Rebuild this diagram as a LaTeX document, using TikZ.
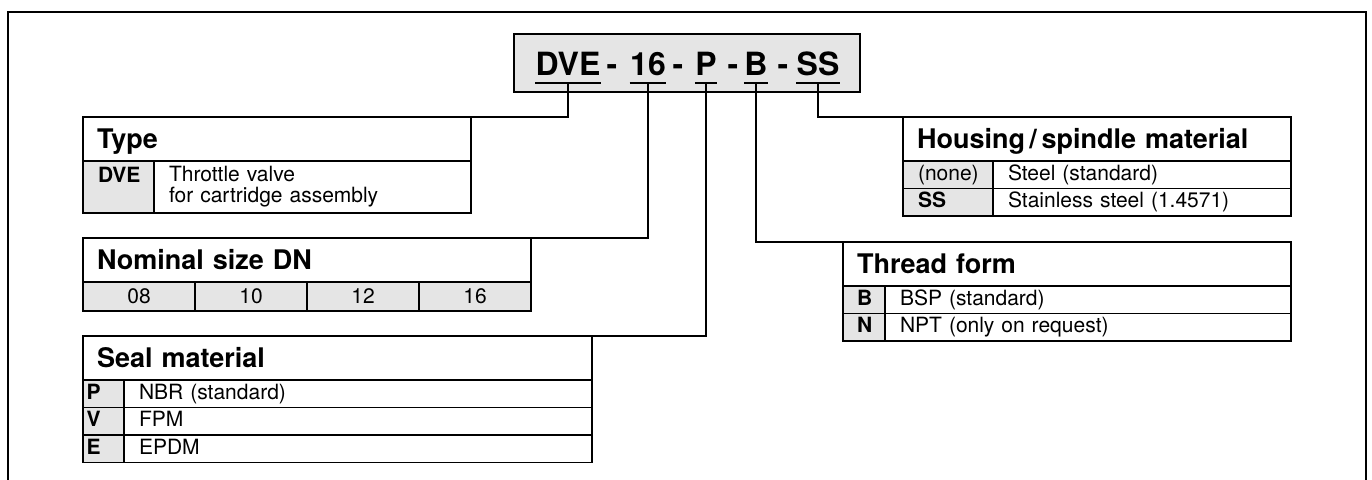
\documentclass[tikz,border=0pt]{standalone}
\usepackage{fontspec}
\setmainfont{TeX Gyre Heros}

\definecolor{keygray}{gray}{0.9}
\newcommand{\codefont}{\fontsize{32}{36}\selectfont\bfseries}
\newcommand{\headfont}{\fontsize{27}{30}\selectfont\bfseries}
\newcommand{\rowfont}{\fontsize{21}{21}\selectfont}

\tikzstyle{codebox}=[draw, line width=1.8, fill=keygray, anchor=north west, minimum width=346, minimum height=58, inner sep=0, outer sep=0]
\tikzstyle{codepart}=[font=\codefont, anchor=base, inner xsep=0.5, inner ysep=0, text height=23, text depth=8, outer sep=0]
\tikzstyle{codeline}=[line width=1.8]
\tikzstyle{headcell}=[draw, line width=1.7, anchor=north west, font=\headfont, align=left, inner xsep=14, inner ysep=0, minimum height=44, text height=20, text depth=2, outer sep=0]
\tikzstyle{keycell}=[draw, line width=1.1, fill=keygray, anchor=north west, font=\rowfont\bfseries, align=left, inner ysep=0, minimum height=27.5, outer sep=0]
\tikzstyle{valcell}=[draw, line width=1.1, anchor=north west, font=\rowfont, align=left, inner xsep=15, inner ysep=0, minimum height=27.5, outer sep=0]
\tikzstyle{rowtext}=[text height=15, text depth=4]
\tikzstyle{sizecell}=[draw, line width=1.1, fill=keygray, anchor=north west, font=\rowfont, inner sep=0, minimum width=112, minimum height=29, text height=15, text depth=1, outer sep=0]
\tikzstyle{tableframe}=[line width=1.7]
\tikzstyle{leadline}=[line width=1.7]
\tikzstyle{frameline}=[line width=1.6]

% one table row: name, corner, key pad, key width, value width, key, value
\newcommand{\optionrow}[7]{
  \node[keycell, rowtext, inner xsep=#3, text width=#4] (#1Key) at (#2) {#6};
  \node[valcell, rowtext, text width=#5] (#1Val) at (#1Key.north east) {#7};
}

\begin{document}
\begin{tikzpicture}[x=1pt, y=-1pt]
  \useasboundingbox (0,0) rectangle (1372,479);
  \draw[frameline] (8,490) -- (8,12) -- (1366,12) -- (1366,490);

  % ordering code
  \node[codebox] (codeBox) at (514,34) {};
  \node[codepart] (dve) at (568,75) {DVE};
  \node[codepart] (dashA) at (612,75) {-};
  \node[codepart] (size) at (648,75) {16};
  \node[codepart] (dashB) at (678,75) {-};
  \node[codepart] (seal) at (706,75) {P};
  \node[codepart] (dashC) at (733,75) {-};
  \node[codepart] (thread) at (756,75) {B};
  \node[codepart] (dashD) at (783,75) {-};
  \node[codepart] (mat) at (818,75) {SS};
  \foreach \codeid in {dve,size,seal,thread,mat}
    \draw[codeline] (\codeid.south west) -- (\codeid.south east);

  % type
  \node[headcell, text width=360pt] (typeHead) at (83,117) {Type};
  \node[keycell, inner xsep=15, text width=41pt, minimum height=52, text height=21, text depth=31] (typeKey) at (typeHead.south west) {DVE};
  \node[valcell, text width=287pt, minimum height=52] (typeVal) at (typeKey.north east) {Throttle valve\\for cartridge assembly};
  \draw[tableframe] (typeHead.north west) rectangle (typeVal.south east) (typeHead.south west) -- (typeHead.south east);

  % nominal size
  \node[headcell, text width=420pt] (sizeHead) at (83,238) {Nominal size DN};
  \node[sizecell] (size08) at (sizeHead.south west) {08};
  \node[sizecell] (size10) at (size08.north east) {10};
  \node[sizecell] (size12) at (size10.north east) {12};
  \node[sizecell] (size16) at (size12.north east) {16};
  \draw[tableframe] (sizeHead.north west) rectangle (size16.south east) (sizeHead.south west) -- (sizeHead.south east);

  % seal material
  \node[headcell, text width=481pt] (sealHead) at (83,336) {Seal material};
  \optionrow{sealP}{sealHead.south west}{3.5}{34pt}{438pt}{P}{NBR (standard)}
  \optionrow{sealV}{sealPKey.south west}{3.5}{34pt}{438pt}{V}{FPM}
  \optionrow{sealE}{sealVKey.south west}{3.5}{34pt}{438pt}{E}{EPDM}
  \draw[tableframe] (sealHead.north west) rectangle (sealEVal.south east) (sealHead.south west) -- (sealHead.south east);

  % housing / spindle material
  \node[headcell, text width=360pt] (matHead) at (903,117) {Housing\,/\,spindle material};
  \optionrow{matNone}{matHead.south west}{15}{60pt}{268pt}{\mdseries (none)}{Steel (standard)}
  \optionrow{matSS}{matNoneKey.south west}{15}{60pt}{268pt}{SS}{Stainless steel (1.4571)}
  \draw[tableframe] (matHead.north west) rectangle (matSSVal.south east) (matHead.south west) -- (matHead.south east);

  % thread form
  \node[headcell, text width=420pt] (threadHead) at (843,242) {Thread form};
  \optionrow{threadB}{threadHead.south west}{14}{14pt}{376pt}{B}{BSP (standard)}
  \optionrow{threadN}{threadBKey.south west}{14}{14pt}{376pt}{N}{NPT (only on request)}
  \draw[tableframe] (threadHead.north west) rectangle (threadNVal.south east) (threadHead.south west) -- (threadHead.south east);

  % leader lines
  \draw[leadline] (dve.south) |- (typeHead.north east);
  \draw[leadline] (size.south) |- (sizeHead.north east);
  \draw[leadline] (seal.south) |- (sealHead.north east);
  \draw[leadline] (thread.south) |- (threadHead.north west);
  \draw[leadline] (mat.south) |- (matHead.north west);
\end{tikzpicture}
\end{document}
